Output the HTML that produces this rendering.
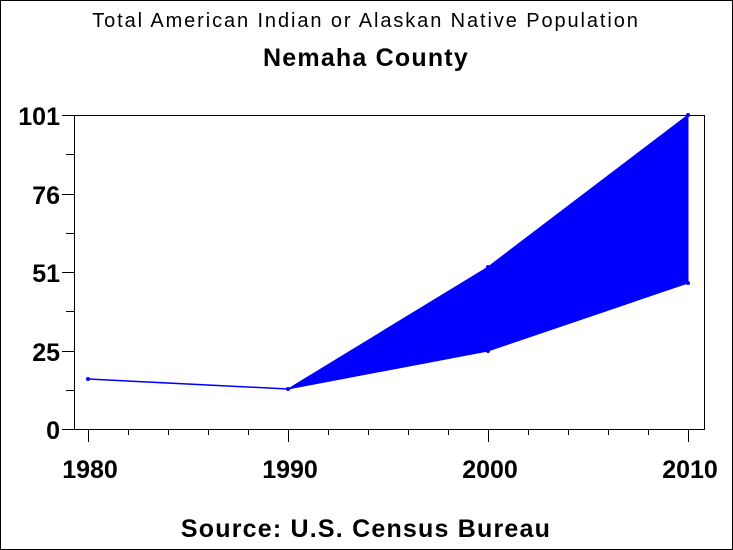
<!DOCTYPE html>
<html><head><style>body{margin:0}svg{display:block}</style></head><body>
<svg width="733" height="550" xmlns="http://www.w3.org/2000/svg" font-family="Liberation Sans, Arial, sans-serif">
<rect x="0.5" y="0.5" width="732" height="549" fill="#fff" stroke="#000"/>
<text x="366" y="27" font-size="20" text-anchor="middle" letter-spacing="1.9">Total American Indian or Alaskan Native Population</text>
<text x="366" y="66" font-size="25" font-weight="bold" text-anchor="middle" letter-spacing="1.2">Nemaha County</text>
<rect x="74.5" y="115.5" width="630" height="314" fill="none" stroke="#000"/>
<g stroke="#000">
<line x1="62" y1="115.5" x2="74" y2="115.5"/><line x1="62" y1="194.5" x2="74" y2="194.5"/>
<line x1="62" y1="272.5" x2="74" y2="272.5"/><line x1="62" y1="351.5" x2="74" y2="351.5"/>
<line x1="62" y1="429.5" x2="74" y2="429.5"/>
<line x1="66" y1="154.5" x2="74" y2="154.5"/><line x1="66" y1="233.5" x2="74" y2="233.5"/>
<line x1="66" y1="311.5" x2="74" y2="311.5"/><line x1="66" y1="390.5" x2="74" y2="390.5"/>
<line x1="88.5" y1="430" x2="88.5" y2="442"/><line x1="288.5" y1="430" x2="288.5" y2="442"/>
<line x1="488.5" y1="430" x2="488.5" y2="442"/><line x1="688.5" y1="430" x2="688.5" y2="442"/>
<path d="M128.5 430v5M168.5 430v5M208.5 430v5M248.5 430v5M328.5 430v5M368.5 430v5M408.5 430v5M448.5 430v5M528.5 430v5M568.5 430v5M608.5 430v5M648.5 430v5"/>
</g>
<g font-size="25" font-weight="bold" text-anchor="end">
<text x="60" y="125">101</text><text x="60" y="204">76</text><text x="60" y="282">51</text><text x="60" y="361">25</text><text x="60" y="439">0</text>
</g>
<g font-size="25" font-weight="bold" text-anchor="middle">
<text x="90" y="478">1980</text><text x="290" y="478">1990</text><text x="490" y="478">2000</text><text x="690" y="478">2010</text>
</g>
<polygon points="288,389 488,267 688,115 688,283 488,351" fill="#0000ff" stroke="#0000ff"/>
<polyline points="88,379 288,389" stroke="#0000ff" stroke-width="1.5" fill="none"/>
<g fill="#0000ff"><circle cx="88" cy="379" r="2"/><circle cx="288" cy="389" r="2"/><circle cx="488" cy="351" r="2"/><circle cx="488" cy="267" r="2"/><circle cx="688" cy="283" r="2"/><circle cx="688" cy="115" r="2"/></g>
<text x="366" y="537" font-size="25" font-weight="bold" text-anchor="middle" letter-spacing="1.2">Source: U.S. Census Bureau</text>
</svg>
</body></html>
